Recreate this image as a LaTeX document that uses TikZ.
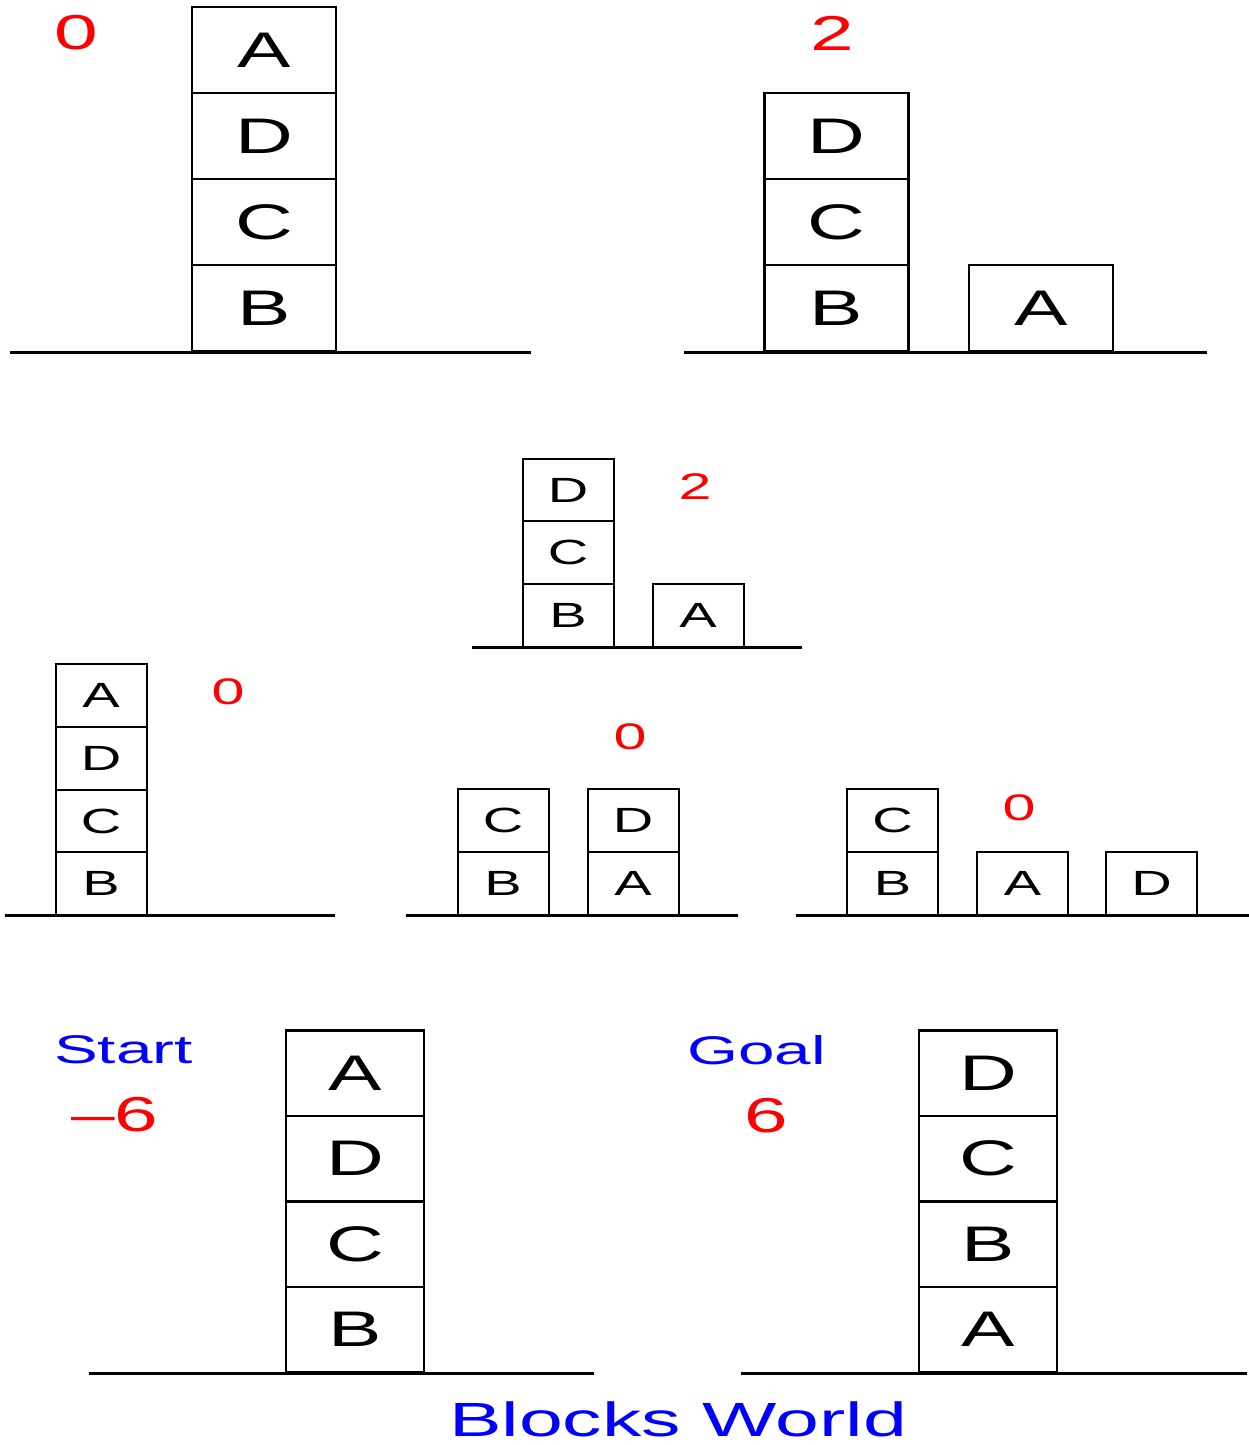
\documentclass[tikz,border=0pt]{standalone}
\usepackage{fontspec}
\newfontfamily\blockfont[FakeStretch=1.6]{Liberation Sans}
\newfontfamily\titlefont[FakeStretch=1.64]{Liberation Sans}
\begin{document}
\begin{tikzpicture}[x=1pt,y=-1pt,
    bigblock/.style={draw=black, line width=2.5pt, minimum width=144pt, minimum height=86pt, inner sep=0pt, font=\blockfont\fontsize{50}{50}\selectfont},
    endblock/.style={bigblock, minimum width=138pt, minimum height=85.5pt},
    smallblock/.style={draw=black, line width=2pt, minimum width=91pt, minimum height=62.7pt, inner sep=0pt, font=\blockfont\fontsize{35}{35}\selectfont},
    bigscore/.style={text=red, inner sep=0pt, font=\blockfont\fontsize{49}{49}\selectfont},
    smallscore/.style={text=red, inner sep=0pt, font=\blockfont\fontsize{37}{37}\selectfont},
    caption/.style={text=blue, inner sep=0pt, font=\titlefont\fontsize{40}{40}\selectfont},
    ground/.style={line width=3pt}]

    \useasboundingbox (0,0) rectangle (1249,1445);

    % Stato in alto a sinistra
    \node[bigblock] (oneA) at (264,50) {A};
    \node[bigblock] (oneD) at (264,136) {D};
    \node[bigblock] (oneC) at (264,222) {C};
    \node[bigblock] (oneB) at (264,308) {B};
    \draw[ground] (10,352) -- (531,352);
    \node[bigscore] (oneScore) at (76,33) {0};

    % Stato in alto a destra
    \node[bigblock] (twoD) at (836.5,136) {D};
    \node[bigblock] (twoC) at (836.5,222) {C};
    \node[bigblock] (twoB) at (836.5,308) {B};
    \node[bigblock] (twoA) at (1041,308) {A};
    \draw[ground] (684,352) -- (1207,352);
    \node[bigscore] (twoScore) at (832,33) {2};

    % Stato centrale
    \node[smallblock] (threeD) at (568,490) {D};
    \node[smallblock] (threeC) at (568,552.5) {C};
    \node[smallblock] (threeB) at (568,615.5) {B};
    \node[smallblock] (threeA) at (698,615.5) {A};
    \draw[ground] (472,647) -- (802,647);
    \node[smallscore] (threeScore) at (695,487) {2};

    % Riga dei successori
    \node[smallblock] (fourA) at (101,695.5) {A};
    \node[smallblock] (fourD) at (101,758.5) {D};
    \node[smallblock] (fourC) at (101,821) {C};
    \node[smallblock] (fourB) at (101,883.5) {B};
    \draw[ground] (5,915) -- (335,915);
    \node[smallscore] (fourScore) at (228,692) {0};

    \node[smallblock] (fiveC) at (503,820.5) {C};
    \node[smallblock] (fiveB) at (503,883.5) {B};
    \node[smallblock] (fiveD) at (633,820.5) {D};
    \node[smallblock] (fiveA) at (633,883.5) {A};
    \draw[ground] (406,915) -- (738,915);
    \node[smallscore] (fiveScore) at (630,737) {0};

    \node[smallblock] (sixC) at (892.5,820.5) {C};
    \node[smallblock] (sixB) at (892.5,883.5) {B};
    \node[smallblock] (sixA) at (1022.5,883.5) {A};
    \node[smallblock] (sixD) at (1151.5,883.5) {D};
    \draw[ground] (796,915) -- (1249,915);
    \node[smallscore] (sixScore) at (1019,808) {0};

    % Start
    \node[endblock] (startA) at (355,1073) {A};
    \node[endblock] (startD) at (355,1158.5) {D};
    \node[endblock] (startC) at (355,1244) {C};
    \node[endblock] (startB) at (355,1329.5) {B};
    \draw[ground] (89,1373) -- (594,1373);
    \node[caption, anchor=west] (startText) at (54,1050) {Start};
    \node[bigscore, anchor=west] (startScore) at (71,1115) {–6};

    % Goal
    \node[endblock] (goalD) at (988,1073) {D};
    \node[endblock] (goalC) at (988,1158.5) {C};
    \node[endblock] (goalB) at (988,1244) {B};
    \node[endblock] (goalA) at (988,1329.5) {A};
    \draw[ground] (741,1373) -- (1247,1373);
    \node[caption, anchor=west] (goalText) at (687,1050) {Goal};
    \node[bigscore] (goalScore) at (766,1116) {6};

    % Titolo
    \node[caption, font=\titlefont\fontsize{48}{48}\selectfont] (title) at (678,1419) {Blocks World};

\end{tikzpicture}
\end{document}
